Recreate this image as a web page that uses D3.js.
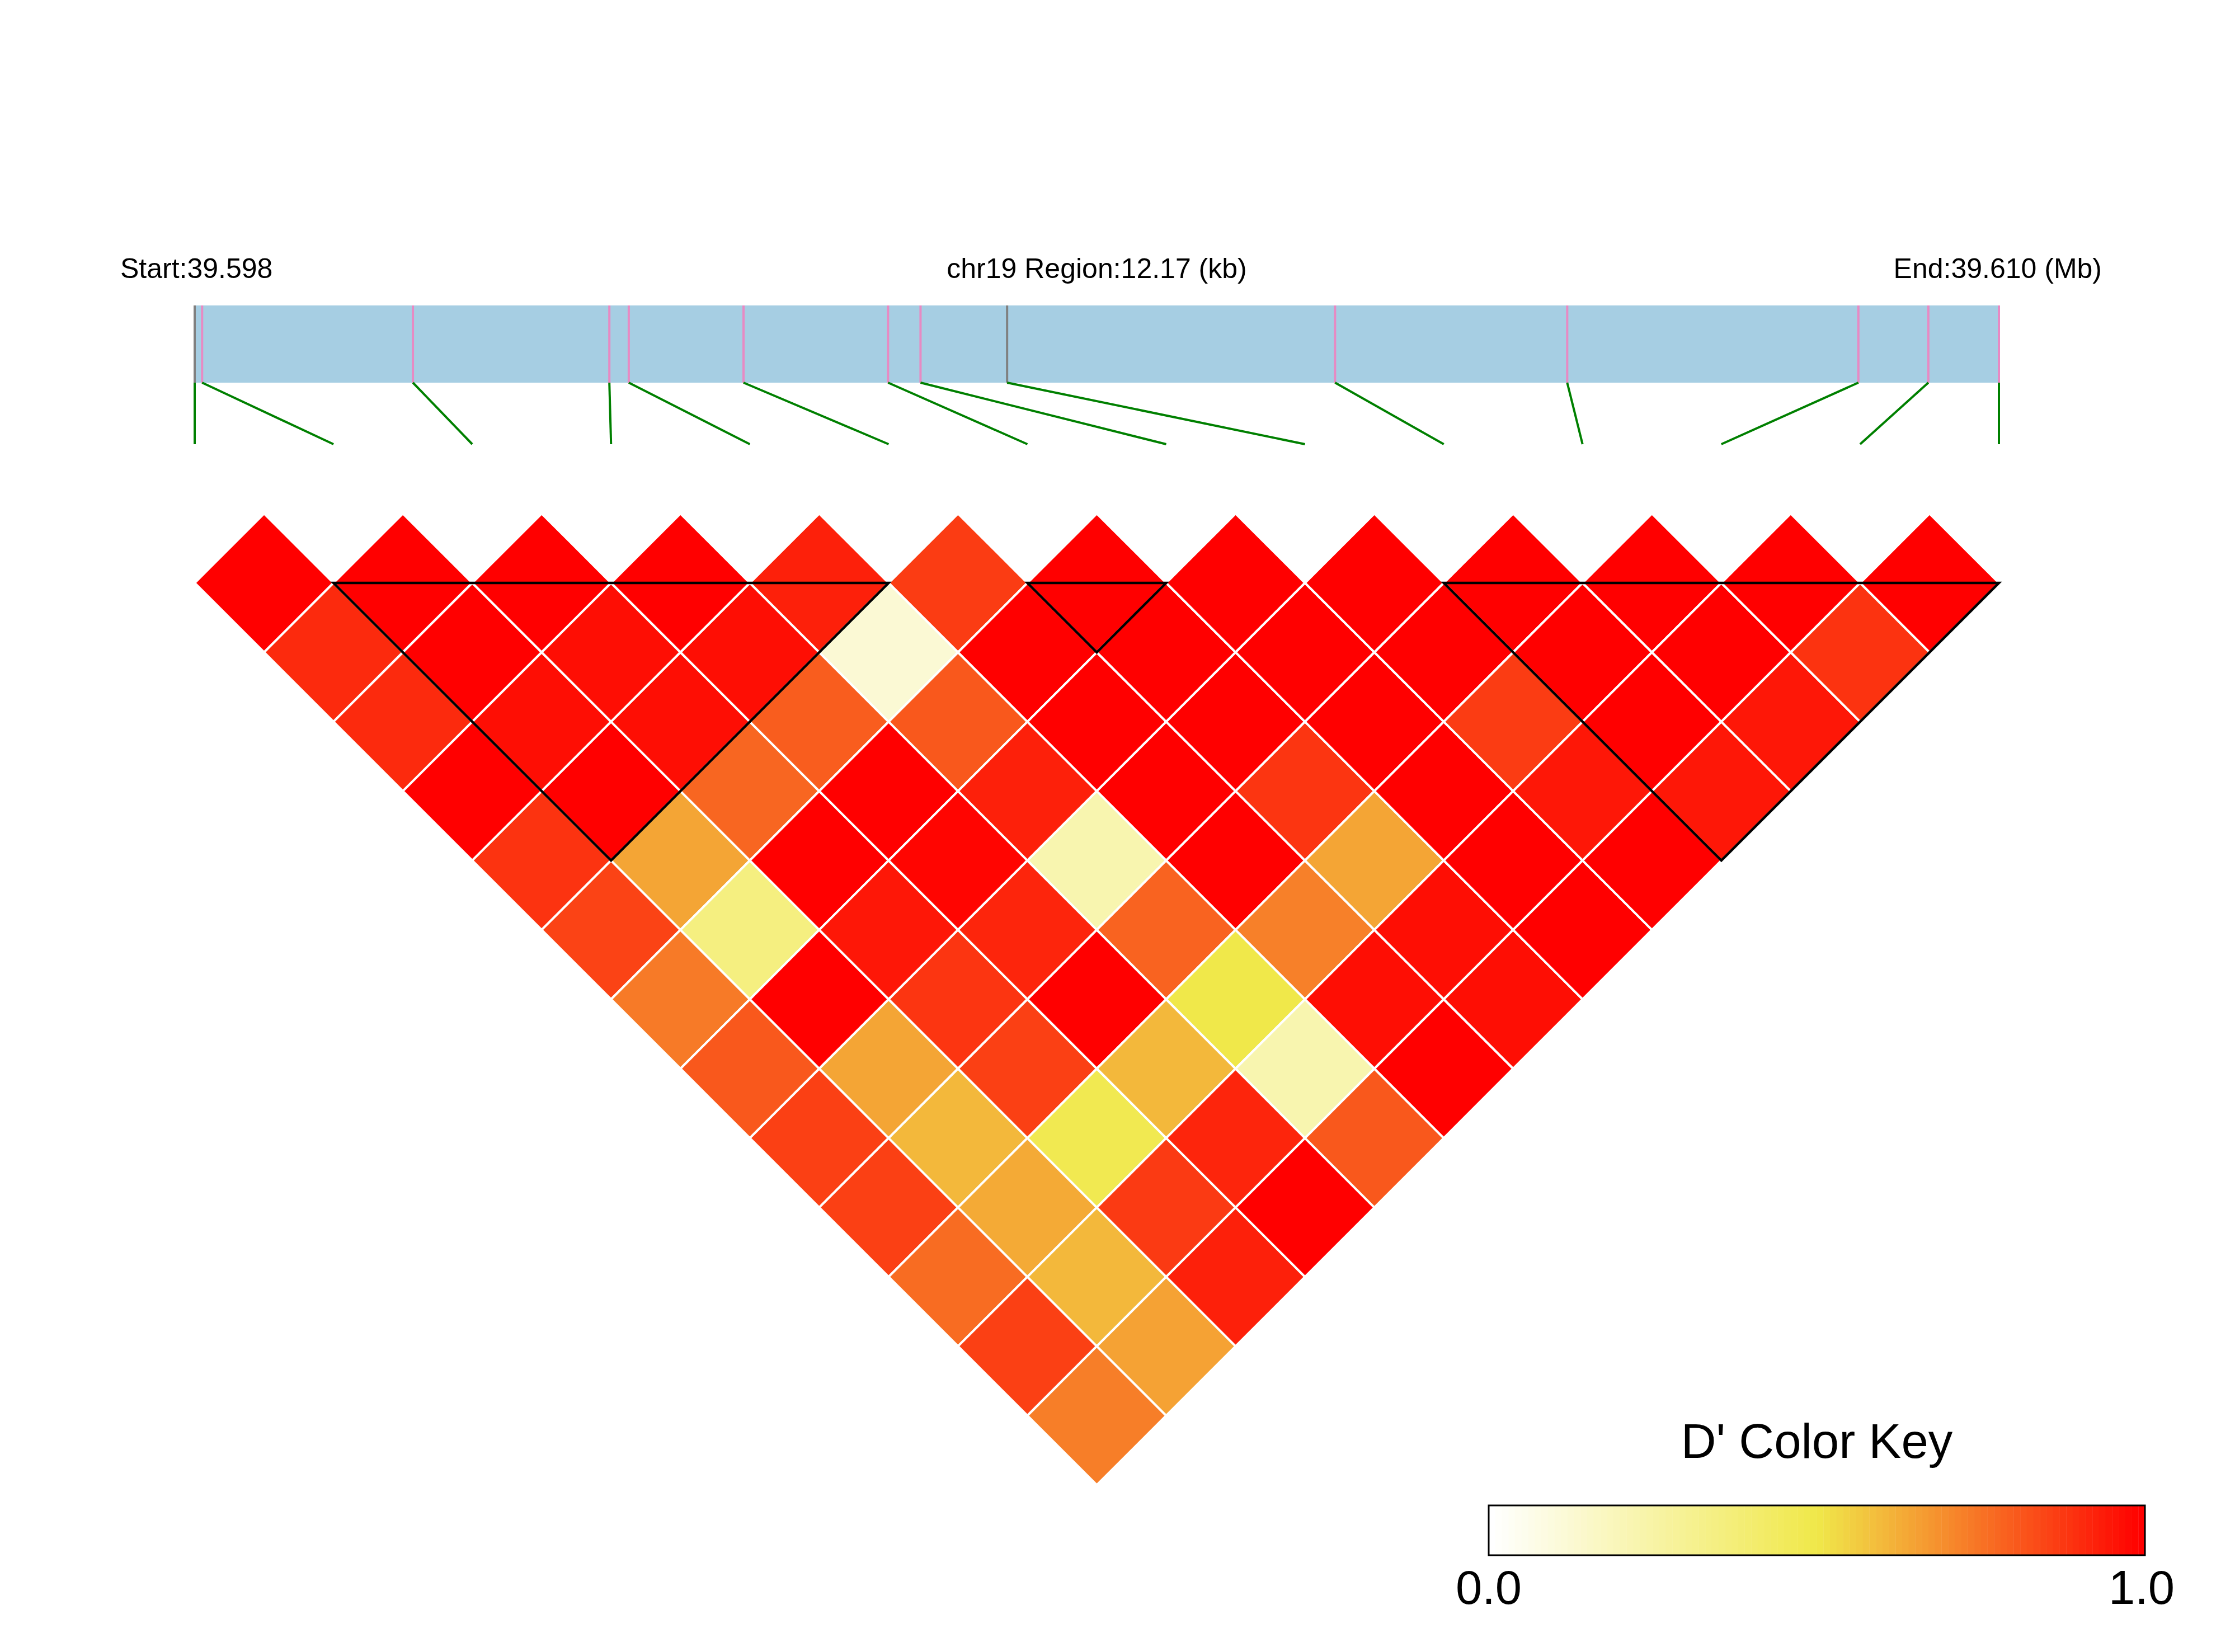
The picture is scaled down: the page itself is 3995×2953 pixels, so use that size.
<!DOCTYPE html>
<html><head><meta charset="utf-8">
<script src="https://cdn.jsdelivr.net/npm/d3@7"></script>
<style>
html,body{margin:0;padding:0;background:#fff;}
svg{display:block;font-family:"Liberation Sans",Arial,Helvetica,sans-serif;}
</style>
</head><body>
<script>
// ---------------- data ----------------
const chrom = "chr19";
const snpPositions = [39598000, 39598050, 39599472, 39600797, 39600928, 39601702, 39602677,
                      39602896, 39603480, 39605692, 39607258, 39609222, 39609694, 39610170];
const markedSnps = [0, 8];
// D' values: dprimeRows[i][k] is D' between SNP i and SNP i+1+k
const dprimeRows = [
  [1.00, 0.91, 0.91, 1.00, 0.89, 0.855, 0.737, 0.81, 0.862, 0.862, 0.767, 0.862, 0.728],
  [1.00, 1.00, 0.97, 1.00, 0.644, 0.35, 1.00, 0.644, 0.603, 0.633, 0.603, 0.65],
  [1.00, 0.97, 0.97, 0.78, 1.00, 0.95, 0.886, 0.862, 0.48, 0.875, 0.93],
  [1.00, 0.97, 0.80, 1.00, 0.99, 0.92, 1.00, 0.603, 0.92, 1.00],
  [0.93, 0.12, 0.81, 0.93, 0.22, 0.787, 0.50, 0.22, 0.81],
  [0.87, 1.00, 1.00, 1.00, 1.00, 0.724, 0.97, 1.00],
  [1.00, 1.00, 1.00, 0.886, 0.644, 0.97, 0.97],
  [1.00, 1.00, 1.00, 1.00, 1.00, 1.00],
  [1.00, 1.00, 0.87, 0.95, 1.00],
  [1.00, 1.00, 1.00, 0.95],
  [1.00, 1.00, 0.95],
  [1.00, 0.89],
  [1.00]
];
const ldBlocks = [[1, 5], [6, 7], [9, 13]];
const keyStops = [0, 0.5, 1];
const keyTickValues = [0, 1];
const keyTitle = "D' Color Key";

// ---------------- layout ----------------
const W = 3995, H = 2953;
const left = 348, right = 3573;
const barTop = 546, barBottom = 684, linkBottom = 794;
const heatTop = 1042;

const svg = d3.select("body").append("svg")
  .attr("width", W).attr("height", H).attr("viewBox", `0 0 ${W} ${H}`);
svg.append("rect").attr("width", W).attr("height", H).attr("fill", "#fff");

const n = snpPositions.length;
const xIdx = d3.scaleLinear().domain([0, n - 1]).range([left, right]);
const xPos = d3.scaleLinear().domain([snpPositions[0], snpPositions[n - 1]]).range([left, right]);
const half = (xIdx(1) - xIdx(0)) / 2;
const yRow = d3.scaleLinear().domain([0, 1]).range([heatTop, heatTop + half]);

const color = d3.scaleLinear().domain(keyStops)
  .range(["#FFFFFF", "#F0E84A", "#FF0000"]).interpolate(d3.interpolateRgb).clamp(true);

// ---------------- header texts ----------------
const start = snpPositions[0], end = snpPositions[n - 1];
const fs = 50, textY = 497;
svg.append("text").attr("x", 215).attr("y", textY).attr("font-size", fs)
  .text("Start:" + (start / 1e6).toFixed(3));
svg.append("text").attr("x", (left + right) / 2).attr("y", textY).attr("font-size", fs)
  .attr("text-anchor", "middle")
  .text(chrom + " Region:" + ((end - start) / 1000).toFixed(2) + " (kb)");
svg.append("text").attr("x", 3757).attr("y", textY).attr("font-size", fs)
  .attr("text-anchor", "end")
  .text("End:" + (end / 1e6).toFixed(3) + " (Mb)");

// ---------------- gene bar ----------------
svg.append("rect").attr("x", left).attr("y", barTop)
  .attr("width", right - left).attr("height", barBottom - barTop)
  .attr("fill", "#A6CEE3");

svg.append("g").selectAll("line").data(snpPositions).join("line")
  .attr("x1", d => xPos(d)).attr("x2", d => xPos(d))
  .attr("y1", barTop).attr("y2", barBottom)
  .attr("stroke", (d, i) => markedSnps.includes(i) ? "#808080" : "#E78AC3")
  .attr("stroke-width", 4);

svg.append("g").selectAll("line").data(snpPositions).join("line")
  .attr("x1", d => xPos(d)).attr("y1", barBottom)
  .attr("x2", (d, i) => xIdx(i)).attr("y2", linkBottom)
  .attr("stroke", "#008000").attr("stroke-width", 4);

// ---------------- heatmap ----------------
const cells = [];
dprimeRows.forEach((row, i) => row.forEach((v, k) => cells.push({ i, j: i + 1 + k, v })));

svg.append("g").selectAll("path").data(cells).join("path")
  .attr("d", d => {
    const cx = xIdx((d.i + d.j) / 2);
    const cy = yRow(d.j - d.i - 1);
    return `M${cx - half},${cy}L${cx},${cy - half}L${cx + half},${cy}L${cx},${cy + half}Z`;
  })
  .attr("fill", d => color(d.v))
  .attr("stroke", "#FFFFFF").attr("stroke-width", 4);

svg.append("g").selectAll("path").data(ldBlocks).join("path")
  .attr("d", ([a, b]) => {
    const xa = xIdx(a), xb = xIdx(b);
    return `M${xa},${heatTop}L${xb},${heatTop}L${(xa + xb) / 2},${yRow(b - a)}Z`;
  })
  .attr("fill", "none").attr("stroke", "#000").attr("stroke-width", 4.5)
  .attr("stroke-linejoin", "miter");

// ---------------- color key ----------------
const keyX = d3.scaleLinear().domain([0, 1]).range([2661, 3834]);
const keyTop = 2691, keyBottom = 2780;
const steps = d3.range(100);
const stepW = (keyX(1) - keyX(0)) / steps.length;
svg.append("g").selectAll("rect").data(steps).join("rect")
  .attr("x", s => keyX(0) + s * stepW).attr("y", keyTop)
  .attr("width", stepW + 0.4).attr("height", keyBottom - keyTop)
  .attr("fill", s => color(s / (steps.length - 1)));
svg.append("rect").attr("x", keyX(0)).attr("y", keyTop)
  .attr("width", keyX(1) - keyX(0)).attr("height", keyBottom - keyTop)
  .attr("fill", "none").attr("stroke", "#000").attr("stroke-width", 3);

svg.append("text").attr("x", (keyX(0) + keyX(1)) / 2).attr("y", 2606)
  .attr("font-size", 87).attr("text-anchor", "middle").text(keyTitle);
svg.append("g").selectAll("text").data(keyTickValues).join("text")
  .attr("x", d => keyX(d) - (d === 1 ? 6 : 0)).attr("y", 2867)
  .attr("font-size", 85).attr("text-anchor", "middle")
  .text(d => d.toFixed(1));
</script>
</body></html>
